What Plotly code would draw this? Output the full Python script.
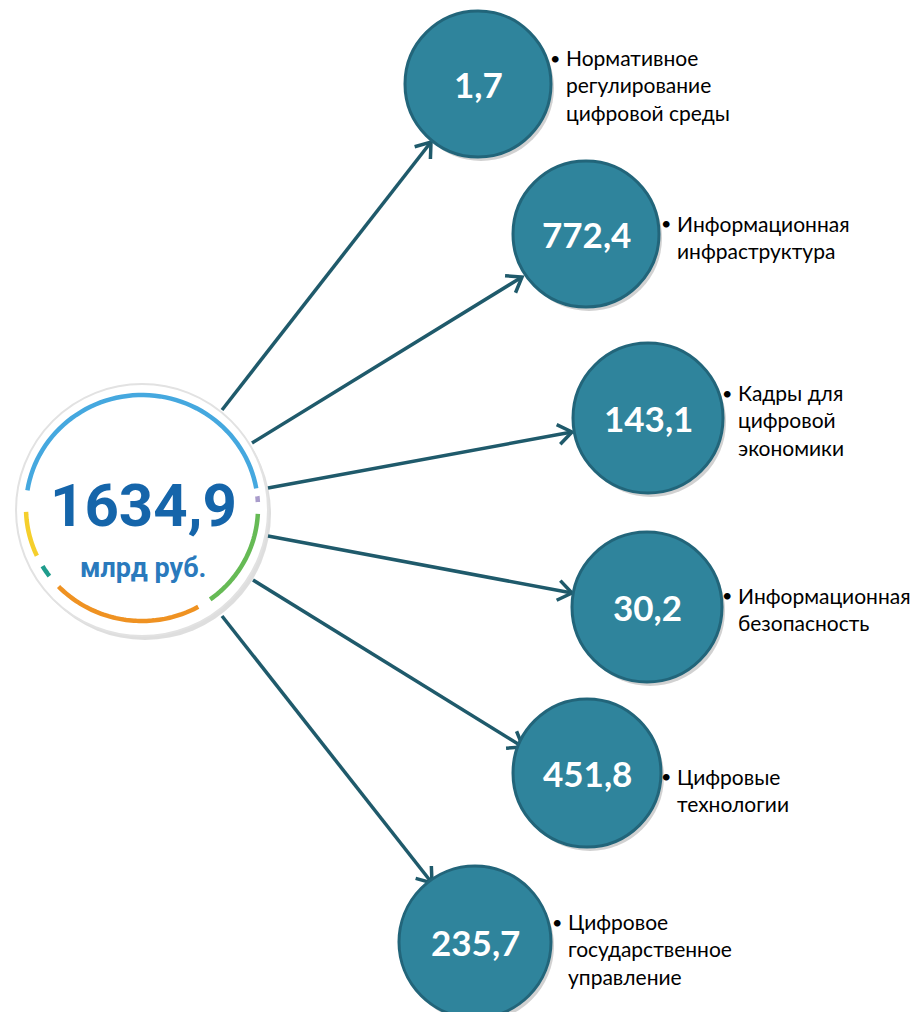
import numpy as np
import plotly.graph_objects as go

# ---- data ----
total_value = 1634.9
total_unit = "млрд руб."
values = [1.7, 772.4, 143.1, 30.2, 451.8, 235.7]
labels = [
    ["Нормативное", "регулирование", "цифровой среды"],
    ["Информационная", "инфраструктура"],
    ["Кадры для", "цифровой", "экономики"],
    ["Информационная", "безопасность"],
    ["Цифровые", "технологии"],
    ["Цифровое", "государственное", "управление"],
]

# ---- layout (pixel positions) ----
W, H = 921, 1012
center = (142, 510)
center_r = 126
bubble_x = [478, 586, 648, 647, 587, 475]
bubble_y = [84, 234, 418, 607, 773, 942]
bubble_r = [73, 73, 75, 75, 74, 76]
arrow_start = [(222, 410), (252, 443), (268, 488), (268, 536), (253, 580), (222, 616)]
arrow_tip = [(431, 142), (522, 277), (572, 432), (572, 593), (523, 747), (432, 883)]
bullet_x = [555, 666, 727, 727, 666, 557]
text_x = [564, 675, 736, 736, 675, 566]
label_y = [58, 223, 393, 595, 776, 922]
label_size = 21
line_h = label_size * 1.3

# ring arcs (deg, math convention) and colours
arcs = [
    (10, 171, "#45a8df"),
    (3, 6, "#a99ccb"),
    (-3, -54, "#66ba55"),
    (-61, -136, "#ef9222"),
    (-143, -149, "#1f9c8c"),
    (-155, -178, "#f5cf2c"),
]
arc_cx, arc_cy, arc_rx, arc_ry = 142, 508, 116, 113

fill_col = "#2f849c"
edge_col = "#22657a"
arrow_col = "#1f5a6b"

shapes = []
annotations = []

# central circle
shapes.append(dict(type="circle", xref="x", yref="y",
                   x0=center[0] - center_r + 3, x1=center[0] + center_r + 3,
                   y0=center[1] - center_r + 4, y1=center[1] + center_r + 4,
                   fillcolor="rgba(0,0,0,0.13)", line=dict(width=0), layer="below"))
shapes.append(dict(type="circle", xref="x", yref="y",
                   x0=center[0] - center_r, x1=center[0] + center_r,
                   y0=center[1] - center_r, y1=center[1] + center_r,
                   fillcolor="white", line=dict(color="#e2e2e2", width=2), layer="below"))

for a0, a1, col in arcs:
    th = np.radians(np.linspace(a0, a1, 60))
    xs = arc_cx + arc_rx * np.cos(th)
    ys = arc_cy - arc_ry * np.sin(th)
    path = "M " + " L ".join(f"{x:.2f},{y:.2f}" for x, y in zip(xs, ys))
    shapes.append(dict(type="path", xref="x", yref="y", path=path,
                       line=dict(color=col, width=4.5), layer="below"))

# arrows
for (sx, sy), (tx, ty) in zip(arrow_start, arrow_tip):
    shapes.append(dict(type="line", xref="x", yref="y", x0=sx, y0=sy, x1=tx, y1=ty,
                       line=dict(color=arrow_col, width=3.5), layer="below"))
    d = np.array([tx - sx, ty - sy], dtype=float)
    d /= np.linalg.norm(d)
    L, ang = 17, np.radians(36)
    pts = []
    for s in (1, -1):
        c, sn = np.cos(s * ang), np.sin(s * ang)
        r = np.array([d[0] * c - d[1] * sn, d[0] * sn + d[1] * c])
        pts.append((tx - L * r[0], ty - L * r[1]))
    path = f"M {pts[0][0]:.2f},{pts[0][1]:.2f} L {tx},{ty} L {pts[1][0]:.2f},{pts[1][1]:.2f}"
    shapes.append(dict(type="path", xref="x", yref="y", path=path,
                       line=dict(color=arrow_col, width=3.5), layer="below"))

# bubbles
for bx, by, br in zip(bubble_x, bubble_y, bubble_r):
    shapes.append(dict(type="circle", xref="x", yref="y",
                       x0=bx - br + 3, x1=bx + br + 3, y0=by - br + 4, y1=by + br + 4,
                       fillcolor="rgba(0,0,0,0.18)", line=dict(width=0), layer="above"))
    shapes.append(dict(type="circle", xref="x", yref="y",
                       x0=bx - br, x1=bx + br, y0=by - br, y1=by + br,
                       fillcolor=fill_col, line=dict(color=edge_col, width=3), layer="above"))


def fmt(v):
    return f"{v:.1f}".replace(".", ",")


# central text
annotations.append(dict(x=center[0] + 1, y=center[1] - 5, xref="x", yref="y",
                        text=f"<b>{fmt(total_value)}</b>", showarrow=False,
                        font=dict(family="Roboto", size=60, color="#1565aa")))
annotations.append(dict(x=center[0] + 1, y=center[1] + 58, xref="x", yref="y",
                        text=f"<b>{total_unit}</b>", showarrow=False,
                        font=dict(family="Roboto", size=27, color="#2a7abd")))

for i, v in enumerate(values):
    annotations.append(dict(x=bubble_x[i], y=bubble_y[i], xref="x", yref="y",
                            text=f"<b>{fmt(v)}</b>", showarrow=False,
                            font=dict(family="Lato", size=35, color="white")))
    annotations.append(dict(x=bullet_x[i], y=label_y[i], xref="x", yref="y",
                            text="•", showarrow=False, xanchor="center",
                            font=dict(family="Lato", size=18, color="black")))
    n = len(labels[i])
    annotations.append(dict(x=text_x[i], y=label_y[i] + (n - 1) * line_h / 2,
                            xref="x", yref="y",
                            text="<br>".join(labels[i]), showarrow=False,
                            xanchor="left", yanchor="middle", align="left",
                            font=dict(family="Lato", size=label_size, color="black")))

fig = go.Figure()
fig.add_trace(go.Scatter(x=[0, W], y=[0, H], mode="markers",
                         marker=dict(opacity=0), hoverinfo="skip", showlegend=False))
fig.update_layout(
    width=W, height=H, margin=dict(l=0, r=0, t=0, b=0),
    paper_bgcolor="white", plot_bgcolor="white",
    xaxis=dict(range=[0, W], visible=False, fixedrange=True),
    yaxis=dict(range=[H, 0], visible=False, fixedrange=True),
    shapes=shapes, annotations=annotations, showlegend=False,
)
fig.write_html("out.html", config={"displayModeBar": False},
               post_script="document.body.style.margin='0';document.body.style.overflow='hidden';")
